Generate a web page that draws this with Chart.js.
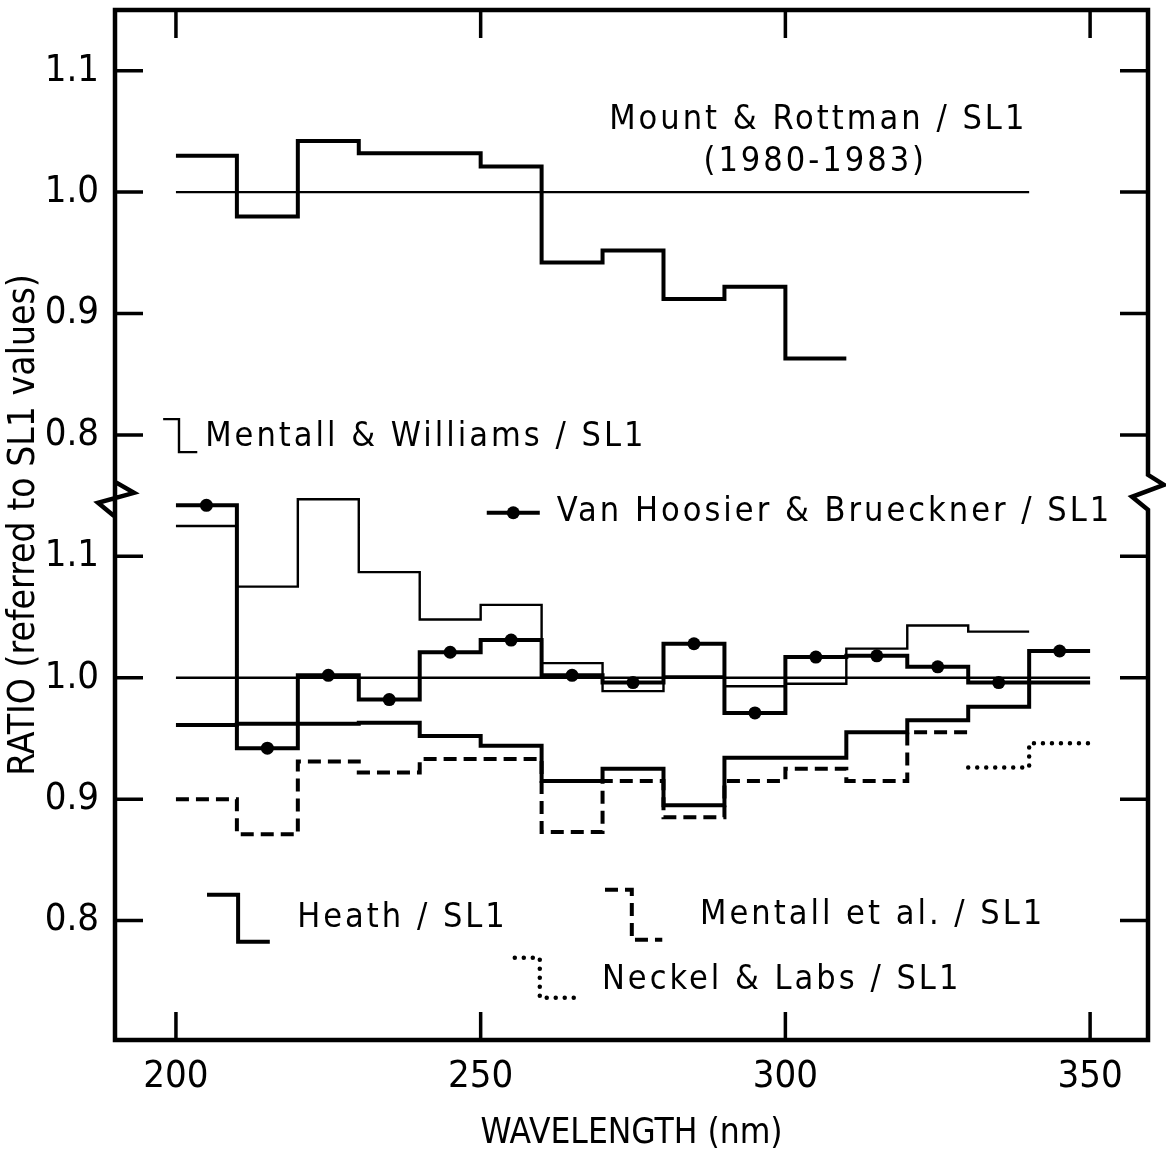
<!DOCTYPE html>
<html>
<head>
<meta charset="utf-8">
<script src="https://cdn.jsdelivr.net/npm/chart.js@4.4.1/dist/chart.umd.min.js"></script>
<style>
  html, body { margin: 0; padding: 0; background: #fff; }
  #box { width: 1166px; height: 1155px; }
</style>
</head>
<body>
<div id="box"><canvas id="ratioChart"></canvas></div>
<script>
// 10 nm bins
const edges = [200, 210, 220, 230, 240, 250, 260, 270, 280, 290, 300, 310, 320, 330, 340, 350];
const centres = [205, 215, 225, 235, 245, 255, 265, 275, 285, 295, 305, 315, 325, 335, 345];

// upper panel
const mountRottman = [1.030, 0.980, 1.042, 1.032, 1.032, 1.021, 0.942, 0.952, 0.912, 0.922, 0.863];
const upperRefRange = [200, 340];

// lower panel
const vanHoosier = [1.142, 0.942, 1.002, 0.982, 1.021, 1.031, 1.002, 0.996, 1.028, 0.971, 1.017, 1.018, 1.009, 0.996, 1.022];
const mentallWilliams = [1.125, 1.075, 1.147, 1.087, 1.048, 1.060, 1.012, 0.989, 1.001, 0.993, 0.995, 1.024, 1.043, 1.038];
const heath = [0.961, 0.962, 0.962, 0.963, 0.952, 0.944, 0.915, 0.925, 0.895, 0.934, 0.934, 0.955, 0.965, 0.976, 0.996];
const mentallEtAl = [0.900, 0.871, 0.931, 0.922, 0.933, 0.933, 0.873, 0.915, 0.885, 0.915, 0.925, 0.915, 0.955];
const neckelLabs = [0.926, 0.946];   // from 330 nm
const neckelStart = 330;
const lowerRefRange = [200, 350];

const xTicks = [200, 250, 300, 350];
const yTickValues = [0.8, 0.9, 1.0, 1.1, 1.2, 1.3, 1.4, 1.5];
const yTickLabels = ['0.8', '0.9', '1.0', '1.1', '0.8', '0.9', '1.0', '1.1'];
const UPPER_SHIFT = 0.4;   // upper panel drawn 0.4 higher on the shared axis
const BREAK_AT = 1.149;

const notes = [
    { text: 'Mount & Rottman / SL1', x: 305.4, y: 1.4593, align: 'center' },
    { text: '(1980-1983)', x: 304.9, y: 1.4247, align: 'center' },
    { text: 'Mentall & Williams / SL1', x: 204.8, y: 1.1985 },
    { text: 'Van Hoosier & Brueckner / SL1', x: 262.5, y: 1.136 },
    { text: 'Heath / SL1', x: 219.9, y: 0.8023 },
    { text: 'Mentall et al. / SL1', x: 286.0, y: 0.8048 },
    { text: 'Neckel & Labs / SL1', x: 269.9, y: 0.7512 }
];
const keyMW = [[197.9, 1.213], [200.5, 1.213], [200.5, 1.1858], [203.5, 1.1858]];
const keyVH = [[251.0, 1.1359], [259.7, 1.1359]];
const keyHeath = [[205.1, 0.8213], [210.2, 0.8213], [210.2, 0.7825], [215.4, 0.7825]];
const keyMEA = [[270.4, 0.8254], [274.8, 0.8254], [274.8, 0.7842], [279.8, 0.7842]];
const keyNL = [[255.6, 0.7694], [259.7, 0.7694], [259.7, 0.7364], [265.5, 0.7364]];

const FONT = '"DejaVu Sans Condensed", "DejaVu Sans", sans-serif';
Chart.defaults.font.family = FONT;
Chart.defaults.color = '#000';

function steps(values, start, shift) {
    let i0 = edges.indexOf(start);
    let pts = values.map((v, i) => ({ x: edges[i0 + i], y: v + shift }));
    pts.push({ x: edges[i0 + values.length], y: values[values.length - 1] + shift });
    return pts;
}

function stepSet(data, width, dash, cap) {
    return {
        data: data,
        borderColor: '#000',
        borderWidth: width,
        borderDash: dash || [],
        borderCapStyle: cap || 'butt',
        borderJoinStyle: 'miter',
        stepped: 'before',
        pointRadius: 0,
        fill: false
    };
}

const frame = {
    id: 'frame',
    afterDraw(chart) {
        const { ctx, chartArea: a, scales: { x, y } } = chart;
        const L = a.left, R = a.right, T = a.top, B = a.bottom;
        const yb = y.getPixelForValue(BREAK_AT);
        ctx.save();
        ctx.strokeStyle = '#000';
        ctx.lineWidth = 4.5;
        ctx.lineJoin = 'miter';
        ctx.beginPath();
        ctx.moveTo(L, B);
        ctx.lineTo(L, yb - 15);
        ctx.lineTo(L + 19, yb - 4);
        ctx.lineTo(L - 17, yb + 6);
        ctx.lineTo(L, yb + 20);
        ctx.lineTo(L, B);
        ctx.lineTo(R, B);
        ctx.lineTo(R, yb + 13);
        ctx.lineTo(R - 16, yb);
        ctx.lineTo(R + 16, yb - 12);
        ctx.lineTo(R, yb - 22);
        ctx.lineTo(R, T);
        ctx.lineTo(L, T);
        ctx.lineTo(L, yb - 15);
        ctx.stroke();

        // inward ticks
        ctx.lineWidth = 3.5;
        ctx.beginPath();
        yTickValues.forEach(v => {
            const py = y.getPixelForValue(v);
            ctx.moveTo(L, py); ctx.lineTo(L + 28, py);
            ctx.moveTo(R - 28, py); ctx.lineTo(R, py);
        });
        xTicks.forEach(v => {
            const px = x.getPixelForValue(v);
            ctx.moveTo(px, T); ctx.lineTo(px, T + 28);
            ctx.moveTo(px, B); ctx.lineTo(px, B - 28);
        });
        ctx.stroke();

        // keys
        const path = (pts, width, dash, cap) => {
            ctx.lineWidth = width;
            ctx.setLineDash(dash);
            ctx.lineCap = cap;
            ctx.beginPath();
            pts.forEach((p, i) => {
                const px = x.getPixelForValue(p[0]), py = y.getPixelForValue(p[1]);
                if (i === 0) ctx.moveTo(px, py); else ctx.lineTo(px, py);
            });
            ctx.stroke();
        };
        path(keyMW, 2.4, [], 'butt');
        path(keyVH, 4, [], 'butt');
        path(keyHeath, 4, [], 'butt');
        path(keyMEA, 4, [13, 7], 'butt');
        path(keyNL, 4.5, [0, 9], 'round');
        ctx.setLineDash([]);
        ctx.fillStyle = '#000';
        ctx.beginPath();
        ctx.arc(x.getPixelForValue((keyVH[0][0] + keyVH[1][0]) / 2), y.getPixelForValue(keyVH[0][1]), 6.5, 0, Math.PI * 2);
        ctx.fill();

        ctx.font = '34px ' + FONT;
        ctx.letterSpacing = '3px';
        ctx.textBaseline = 'middle';
        notes.forEach(n => {
            ctx.textAlign = n.align || 'left';
            ctx.fillText(n.text, x.getPixelForValue(n.x), y.getPixelForValue(n.y));
        });
        ctx.restore();
    }
};

new Chart(document.getElementById('ratioChart'), {
    type: 'line',
    data: {
        datasets: [
            stepSet([{ x: upperRefRange[0], y: 1 + UPPER_SHIFT }, { x: upperRefRange[1], y: 1 + UPPER_SHIFT }], 2.4),
            stepSet([{ x: lowerRefRange[0], y: 1 }, { x: lowerRefRange[1], y: 1 }], 2.4),
            stepSet(steps(mountRottman, 200, UPPER_SHIFT), 4),
            stepSet(steps(mentallWilliams, 200, 0), 2.4),
            stepSet(steps(heath, 200, 0), 4),
            stepSet(steps(mentallEtAl, 200, 0), 4, [13, 7]),
            stepSet(steps(neckelLabs, neckelStart, 0), 4.5, [0, 9], 'round'),
            stepSet(steps(vanHoosier, 200, 0), 4),
            {
                data: vanHoosier.map((v, i) => ({ x: centres[i], y: v })),
                showLine: false,
                pointRadius: 6.5,
                pointBackgroundColor: '#000',
                pointBorderColor: '#000',
                pointBorderWidth: 0
            }
        ]
    },
    options: {
        responsive: true,
        maintainAspectRatio: false,
        animation: false,
        layout: { padding: { top: 10, right: 18, left: 0, bottom: 0 } },
        plugins: { legend: { display: false }, tooltip: { enabled: false } },
        scales: {
            x: {
                type: 'linear',
                min: 190,
                max: 359.5,
                afterBuildTicks: (s) => { s.ticks = xTicks.map(v => ({ value: v })); },
                afterFit: (s) => { s.height = 115; s.paddingLeft = 0; s.paddingRight = 0; },
                grid: { display: false },
                border: { display: false },
                ticks: { autoSkip: false, maxRotation: 0, padding: 6, font: { size: 38 } },
                title: { display: true, text: 'WAVELENGTH (nm)', font: { size: 35 }, padding: { top: 0, bottom: 0 } }
            },
            y: {
                type: 'linear',
                min: 0.7016,
                max: 1.55,
                afterBuildTicks: (s) => { s.ticks = yTickValues.map(v => ({ value: v })); },
                afterFit: (s) => { s.width = 115; s.paddingTop = 0; s.paddingBottom = 0; },
                grid: { display: false },
                border: { display: false },
                ticks: { autoSkip: false, padding: 8, font: { size: 38 }, callback: (v, i) => yTickLabels[i] },
                title: { display: true, text: 'RATIO (referred to SL1 values)', font: { size: 37 }, padding: { top: 2, bottom: 0 } }
            }
        }
    },
    plugins: [frame]
});
</script>
</body>
</html>
